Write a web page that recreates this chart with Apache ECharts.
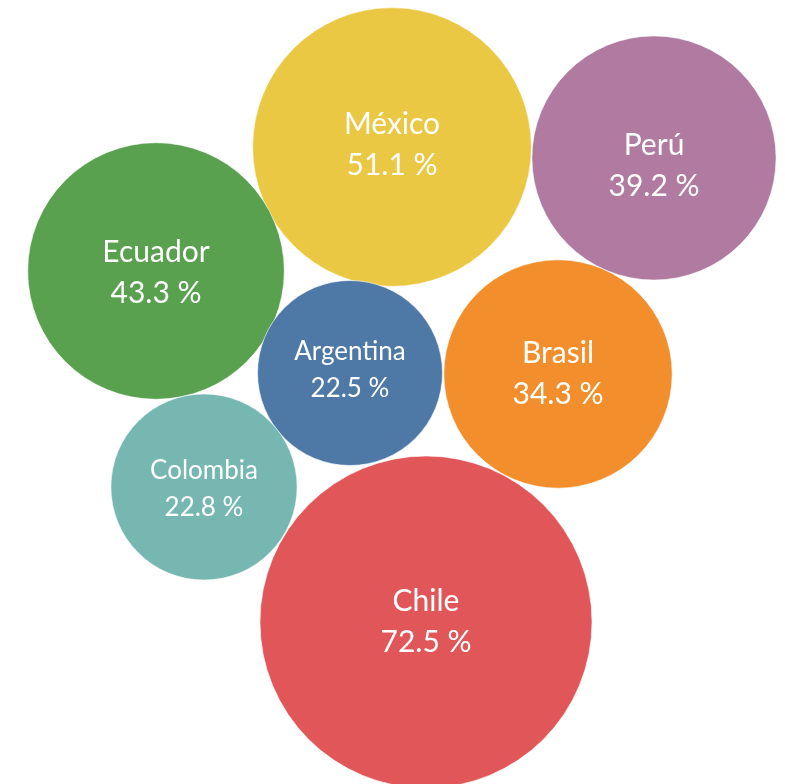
<!DOCTYPE html>
<html>
<head>
<meta charset="utf-8">
<script src="https://cdn.jsdelivr.net/npm/echarts@6/dist/echarts.min.js"></script>
<style>html,body{margin:0;padding:0;background:#fff}#c{width:785px;height:784px}</style>
</head>
<body>
<div id="c"></div>
<script>
const countries = ['México', 'Perú', 'Ecuador', 'Argentina', 'Brasil', 'Colombia', 'Chile'];
const values = [51.1, 39.2, 43.3, 22.5, 34.3, 22.8, 72.5];
const posX = [392, 654, 156, 350, 558, 204, 426];
const posY = [637, 626, 513, 411, 410, 297, 162];
const colors = ['#EBC844', '#B07AA1', '#59A14F', '#4E79A7', '#F28E2B', '#76B7B2', '#E15759'];

const chart = echarts.init(document.getElementById('c'), null, {renderer: 'canvas'});
const labelShift = {'Perú': 8, 'México': -2, 'Argentina': -3, 'Colombia': 2, 'Ecuador': 2};
const data = countries.map((n, i) => {
  const small = values[i] < 30;
  return {
    name: n,
    value: [posX[i], posY[i], values[i]],
    itemStyle: {color: colors[i]},
    label: {
      fontSize: small ? 26 : 30,
      lineHeight: small ? 37 : 41,
      offset: [0, labelShift[n] || 0]
    }
  };
});
chart.setOption({
  animation: false,
  grid: {left: 0, right: 0, top: 0, bottom: 0},
  xAxis: {type: 'value', min: 0, max: 785, show: false},
  yAxis: {type: 'value', min: 0, max: 784, show: false},
  series: [{
    type: 'scatter',
    data: data,
    symbol: 'circle',
    symbolSize: v => 39 * Math.sqrt(v[2]),
    itemStyle: {opacity: 1, borderColor: 'rgba(255,255,255,0.6)', borderWidth: 1},
    label: {
      show: true,
      position: 'inside',
      color: '#ffffff',
      fontFamily: 'Lato',
      formatter: p => p.name + '\n' + p.value[2].toFixed(1) + ' %'
    }
  }]
});
</script>
</body>
</html>
